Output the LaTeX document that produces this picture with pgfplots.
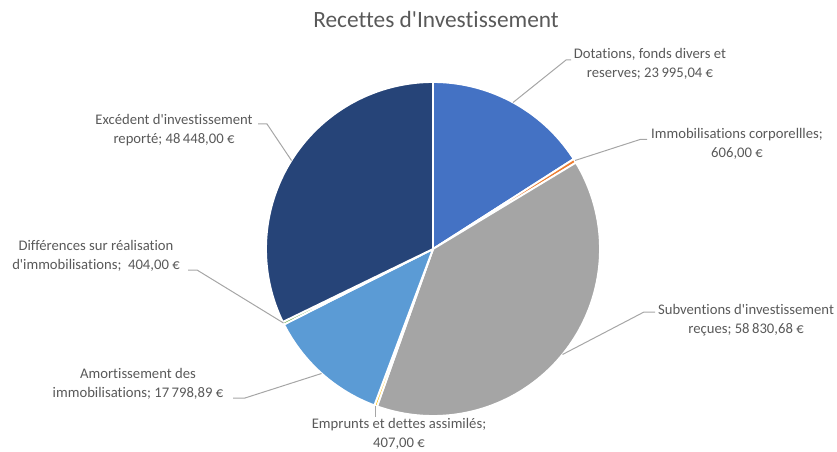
\documentclass[border=0pt]{standalone}
\usepackage{pgfplots}
\pgfplotsset{compat=1.18}
\usepackage{fontspec}
\setmainfont{Carlito}[Ligatures={TeXOff,NoCommon}]
\definecolor{cDot}{HTML}{4472C4}
\definecolor{cImm}{HTML}{ED7D31}
\definecolor{cSub}{HTML}{A5A5A5}
\definecolor{cEmp}{HTML}{FFC000}
\definecolor{cAmo}{HTML}{5B9BD5}
\definecolor{cDif}{HTML}{70AD47}
\definecolor{cExc}{HTML}{264478}
\definecolor{txt}{HTML}{595959}
\definecolor{lead}{HTML}{A6A6A6}
\begin{document}%
\begin{tikzpicture}
% values (EUR)
\pgfkeys{/pgf/fpu=true,/pgf/fpu/output format=fixed}
\pgfmathsetmacro\vA{23995.04}% Dotations
\pgfmathsetmacro\vB{606.00}% Immobilisations corporelles
\pgfmathsetmacro\vC{58830.68}% Subventions
\pgfmathsetmacro\vD{407.00}% Emprunts
\pgfmathsetmacro\vE{17798.89}% Amortissement
\pgfmathsetmacro\vF{404.00}% Differences
\pgfmathsetmacro\vG{48448.00}% Excedent
\pgfmathsetmacro\T{\vA+\vB+\vC+\vD+\vE+\vF+\vG}
\pgfmathsetmacro\cA{90-360*\vA/\T}
\pgfmathsetmacro\cB{\cA-360*\vB/\T}
\pgfmathsetmacro\cC{\cB-360*\vC/\T}
\pgfmathsetmacro\cD{\cC-360*\vD/\T}
\pgfmathsetmacro\cE{\cD-360*\vE/\T}
\pgfmathsetmacro\cF{\cE-360*\vF/\T}
\pgfmathsetmacro\cG{\cF-360*\vG/\T}
\pgfkeys{/pgf/fpu=false}
\begin{axis}[name=ax, scale only axis, width=627.75pt, height=339pt,
  xmin=0, xmax=837, ymin=0, ymax=452, y dir=reverse,
  hide axis, clip=false]
\pgfplotsset{slice/.style={draw=white, line width=1.4pt, samples=90, variable=\t, no markers}}
\addplot[slice, fill=cDot, domain=\cA:90] ({433+167*cos(\t)},{249-167*sin(\t)}) -- (axis cs:433,249) -- cycle;
\addplot[slice, fill=cImm, domain=\cB:\cA, samples=5] ({433+167*cos(\t)},{249-167*sin(\t)}) -- (axis cs:433,249) -- cycle;
\addplot[slice, fill=cSub, domain=\cC:\cB] ({433+167*cos(\t)},{249-167*sin(\t)}) -- (axis cs:433,249) -- cycle;
\addplot[slice, fill=cEmp, domain=\cD:\cC, samples=5] ({433+167*cos(\t)},{249-167*sin(\t)}) -- (axis cs:433,249) -- cycle;
\addplot[slice, fill=cAmo, domain=\cE:\cD] ({433+167*cos(\t)},{249-167*sin(\t)}) -- (axis cs:433,249) -- cycle;
\addplot[slice, fill=cDif, domain=\cF:\cE, samples=5] ({433+167*cos(\t)},{249-167*sin(\t)}) -- (axis cs:433,249) -- cycle;
\addplot[slice, fill=cExc, domain=\cG:\cF] ({433+167*cos(\t)},{249-167*sin(\t)}) -- (axis cs:433,249) -- cycle;
% leader lines
\draw[lead, line width=0.75pt] (axis cs:571,60) -- (axis cs:566,60) -- (axis cs:513,102.5);
\draw[lead, line width=0.75pt] (axis cs:647,139.5) -- (axis cs:640,139.5) -- (axis cs:575,160.5);
\draw[lead, line width=0.75pt] (axis cs:655,312) -- (axis cs:644,312) -- (axis cs:562.5,354.5);
\draw[lead, line width=0.75pt] (axis cs:375.5,417) -- (axis cs:375.5,406);
\draw[lead, line width=0.75pt] (axis cs:233,398) -- (axis cs:245,398) -- (axis cs:321.5,373.5);
\draw[lead, line width=0.75pt] (axis cs:188,270) -- (axis cs:197,270) -- (axis cs:283.5,323);
\draw[lead, line width=0.75pt] (axis cs:258,124) -- (axis cs:267,124) -- (axis cs:291.5,160.5);
% labels
\tikzset{lab/.style={text=txt, align=center, inner sep=0pt, font=\fontsize{11}{14.5}\selectfont}}
\node[lab] at (axis cs:650,64) {Dotations, fonds divers et\\reserves; 23\,995,04 €};
\node[lab] at (axis cs:737,144) {Immobilisations corporellles;\\606,00 €};
\node[lab] at (axis cs:746,320) {Subventions d'investissement\\reçues; 58\,830,68 €};
\node[lab] at (axis cs:399,434) {Emprunts et dettes assimilés;\\407,00 €};
\node[lab] at (axis cs:138,384) {Amortissement des\\immobilisations; 17\,798,89 €};
\node[lab] at (axis cs:96,256) {Différences sur réalisation\\d'immobilisations;\ \ 404,00 €};
\node[lab] at (axis cs:174,130) {Excédent d'investissement\\reporté; 48\,448,00 €};
\node[text=txt, inner sep=0pt, font=\fontsize{17.5}{20}\selectfont] at (axis cs:436,19) {Recettes d'Investissement};
\end{axis}
\pgfresetboundingbox
\path (ax.south west) rectangle (ax.north east);
\end{tikzpicture}%
\end{document}
